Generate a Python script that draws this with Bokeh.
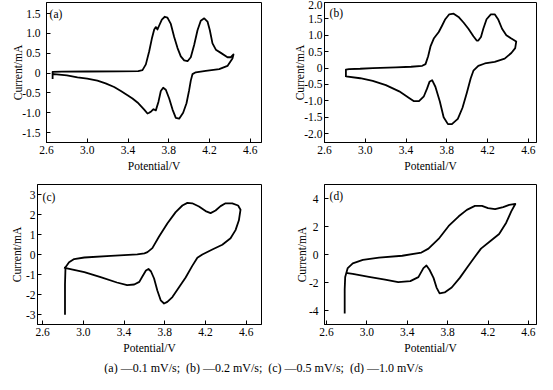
from bokeh.plotting import figure
from bokeh.layouts import column, row
from bokeh.models import Range1d, FixedTicker, Label
from bokeh.embed import file_html
from bokeh.resources import INLINE

FONT = "Liberation Serif"

# ---- data (potential in V, current in mA) ----
a_v = [2.66, 2.66, 2.75, 3.00, 3.30, 3.50, 3.542, 3.575, 3.608, 3.634, 3.657, 3.673, 3.689, 3.706,
       3.732, 3.761, 3.787, 3.82, 3.853, 3.886, 3.918, 3.951, 3.984, 4.016, 4.049, 4.082, 4.114,
       4.148, 4.18, 4.203, 4.229, 4.262, 4.311, 4.376, 4.409, 4.435, 4.425, 4.376, 4.295, 4.163,
       4.065, 4.033, 4.016, 4.00, 3.974, 3.941, 3.902, 3.869, 3.837, 3.804, 3.771, 3.745, 3.722,
       3.699, 3.673, 3.65, 3.63, 3.608, 3.591, 3.559, 3.493, 3.444, 3.395, 3.33, 3.264, 3.18,
       3.10, 3.00, 2.904, 2.80, 2.675, 2.66]
a_i = [-0.15, 0.03, 0.035, 0.04, 0.045, 0.05, 0.074, 0.22, 0.55, 0.87, 1.10, 1.16, 1.10, 1.20,
       1.35, 1.42, 1.40, 1.24, 0.91, 0.63, 0.42, 0.32, 0.30, 0.40, 0.71, 1.08, 1.32,
       1.38, 1.30, 1.08, 0.75, 0.59, 0.51, 0.40, 0.40, 0.47, 0.37, 0.18, 0.10, 0.057,
       0.02, -0.025, -0.19, -0.43, -0.76, -1.00, -1.15, -1.13, -0.92, -0.64, -0.42, -0.37, -0.45,
       -0.72, -0.94, -0.91, -0.96, -1.00, -1.02, -0.92, -0.74, -0.64, -0.556, -0.45, -0.35, -0.26,
       -0.19, -0.14, -0.106, -0.06, -0.025, -0.03]

b_v = [2.81, 2.81, 2.84, 2.95, 3.073, 3.30, 3.45, 3.559, 3.591, 3.617, 3.64, 3.672, 3.721, 3.753,
       3.785, 3.824, 3.867, 3.915, 3.964, 4.012, 4.061, 4.093, 4.109, 4.135, 4.158, 4.19, 4.232,
       4.27, 4.303, 4.342, 4.384, 4.433, 4.481, 4.471, 4.433, 4.368, 4.27, 4.173, 4.109, 4.061,
       4.034, 3.996, 3.954, 3.908, 3.85, 3.811, 3.769, 3.731, 3.688, 3.656, 3.63, 3.607, 3.575,
       3.527, 3.478, 3.43, 3.333, 3.202, 3.073, 2.95, 2.81]
b_i = [-0.27, -0.05, -0.03, -0.02, 0.00, 0.02, 0.04, 0.07, 0.12, 0.36, 0.66, 0.90, 1.10, 1.29,
       1.49, 1.64, 1.66, 1.56, 1.39, 1.20, 0.97, 0.84, 0.84, 0.95, 1.20, 1.49, 1.64,
       1.64, 1.49, 1.20, 1.00, 0.90, 0.81, 0.61, 0.46, 0.29, 0.19, 0.14, 0.07, -0.08,
       -0.32, -0.76, -1.21, -1.55, -1.71, -1.71, -1.50, -1.01, -0.57, -0.37, -0.42, -0.62, -0.86,
       -1.01, -1.01, -0.91, -0.71, -0.52, -0.39, -0.31, -0.25]

c_v = [2.82, 2.82, 2.825, 2.86, 2.91, 3.01, 3.27, 3.53, 3.60, 3.63, 3.678, 3.744, 3.825, 3.907,
       3.973, 4.022, 4.07, 4.136, 4.201, 4.25, 4.299, 4.348, 4.397, 4.463, 4.52, 4.544, 4.528,
       4.495, 4.446, 4.365, 4.267, 4.169, 4.12, 4.07, 4.005, 3.94, 3.875, 3.825, 3.793, 3.76,
       3.727, 3.695, 3.665, 3.64, 3.615, 3.58, 3.55, 3.50, 3.43, 3.33, 3.17, 3.01, 2.84, 2.81]
c_i = [-3.01, -1.50, -0.64, -0.39, -0.23, -0.15, -0.07, 0.01, 0.06, 0.12, 0.32, 0.90, 1.55, 2.12,
       2.45, 2.58, 2.56, 2.40, 2.17, 2.07, 2.20, 2.42, 2.56, 2.56, 2.45, 2.24, 1.71,
       1.22, 0.81, 0.49, 0.25, 0.00, -0.16, -0.57, -1.15, -1.64, -2.13, -2.37, -2.45, -2.29,
       -1.80, -1.20, -0.85, -0.72, -0.80, -1.10, -1.37, -1.50, -1.53, -1.40, -1.13, -0.88, -0.69, -0.66]

d_v = [2.78, 2.78, 2.785, 2.81, 2.86, 2.96, 3.12, 3.35, 3.54, 3.61, 3.71, 3.81, 3.91, 3.99, 4.07,
       4.14, 4.20, 4.27, 4.35, 4.41, 4.47, 4.43, 4.38, 4.31, 4.23, 4.13, 4.07, 4.00, 3.92, 3.84,
       3.77, 3.72, 3.69, 3.66, 3.62, 3.59, 3.56, 3.51, 3.43, 3.31, 3.18, 3.02, 2.86, 2.79]
d_i = [-4.21, -2.50, -1.60, -0.97, -0.63, -0.39, -0.23, -0.09, 0.14, 0.42, 1.11, 2.04, 2.73, 3.19, 3.47,
       3.47, 3.31, 3.24, 3.38, 3.54, 3.61, 3.08, 2.27, 1.46, 1.00, 0.42, -0.16, -0.86, -1.67, -2.36,
       -2.71, -2.78, -2.36, -1.67, -1.09, -0.79, -0.97, -1.62, -1.90, -1.97, -1.79, -1.60, -1.39, -1.32]

x_ticks = [2.6, 3.0, 3.4, 3.8, 4.2, 4.6]
x_tick_labels = ["2.6", "3.0", "3.4", "3.8", "4.2", "4.6"]
a_yticks = [-1.5, -1.0, -0.5, 0, 0.5, 1.0, 1.5]
a_ylabels = ["-1.5", "-1.0", "-0.5", "0", "0.5", "1.0", "1.5"]
b_yticks = [-2.0, -1.5, -1.0, -0.5, 0, 0.5, 1.0, 1.5, 2.0]
b_ylabels = ["-2.0", "-1.5", "-1.0", "-0.5", "0", "0.5", "1.0", "1.5", "2.0"]
c_yticks = [-3, -2, -1, 0, 1, 2, 3]
c_ylabels = ["-3", "-2", "-1", "0", "1", "2", "3"]
d_yticks = [-4, -2, 0, 2, 4]
d_ylabels = ["-4", "-2", "0", "2", "4"]

caption = "(a) \u20140.1 mV/s;\u2002(b) \u20140.2 mV/s;\u2002(c) \u20140.5 mV/s;\u2002(d) \u20141.0 mV/s"

FS = "11.5px"


def panel(v, i, xr, yr, yt, ytl, tag, width, height, bl, br, bt, bb,
          ystand, ylabstand, tag_dx, tag_dy):
    p = figure(width=width, height=height, x_range=Range1d(*xr), y_range=Range1d(*yr),
               toolbar_location=None, output_backend="svg",
               min_border_left=bl, min_border_right=br, min_border_top=bt, min_border_bottom=bb,
               x_axis_label="Potential/V", y_axis_label="Current/mA")
    p.line(v, i, line_color="black", line_width=1.8, line_join="round")
    p.grid.visible = False
    p.outline_line_color = "black"
    p.outline_line_width = 1
    p.outline_line_alpha = 1
    p.background_fill_color = "white"
    p.border_fill_color = "white"
    p.xaxis.ticker = FixedTicker(ticks=x_ticks)
    p.xaxis.major_label_overrides = dict(zip(x_ticks, x_tick_labels))
    p.yaxis.ticker = FixedTicker(ticks=yt)
    p.yaxis.major_label_overrides = dict(zip(yt, ytl))
    for ax in (p.xaxis[0], p.yaxis[0]):
        ax.axis_line_color = "black"
        ax.major_tick_line_color = "black"
        ax.major_tick_in = 4
        ax.major_tick_out = 0
        ax.minor_tick_line_color = None
        ax.major_label_text_font = FONT
        ax.major_label_text_font_size = FS
        ax.major_label_text_color = "black"
        ax.axis_label_text_font = FONT
        ax.axis_label_text_font_size = FS
        ax.axis_label_text_font_style = "normal"
        ax.axis_label_text_color = "black"
    p.xaxis.major_label_standoff = 3
    p.xaxis.axis_label_standoff = 3
    p.yaxis.major_label_standoff = ystand
    p.yaxis.axis_label_standoff = ylabstand
    p.add_layout(Label(x=xr[0] + tag_dx, y=yr[1] - tag_dy, text=tag, text_baseline="top",
                       text_font=FONT, text_font_size=FS, text_color="black"))
    return p


pa = panel(a_v, a_i, (2.6, 4.71), (-1.75, 1.78), a_yticks, a_ylabels, "(a)",
           268, 180, 46, 7, 2, 38, 6, -5, 0.03, 0.15)
pb = panel(b_v, b_i, (2.6, 4.68), (-2.27, 2.0), b_yticks, b_ylabels, "(b)",
           269, 180, 56, 1, 2, 38, 2, -5, 0.05, 0.15)
pc = panel(c_v, c_i, (2.55, 4.75), (-3.5, 3.5), c_yticks, c_ylabels, "(c)",
           268, 178, 37, 7, 4, 34, 2, 0, 0.05, 0.3)
pd = panel(d_v, d_i, (2.58, 4.68), (-5.0, 5.0), d_yticks, d_ylabels, "(d)",
           269, 178, 56, 1, 4, 34, 6, -2, 0.05, 0.4)

cap = figure(width=537, height=16, x_range=Range1d(0, 1), y_range=Range1d(0, 1),
             toolbar_location=None, output_backend="svg", min_border=0,
             x_axis_type=None, y_axis_type=None)
cap.grid.visible = False
cap.outline_line_color = None
cap.add_layout(Label(x=0.49, y=0.4, text=caption, text_align="center", text_baseline="middle",
                     text_font=FONT, text_font_size="12px", text_color="black"))

layout = column(row(pa, pb), row(pc, pd), cap)

open("out.html", "w").write(file_html(layout, INLINE))
